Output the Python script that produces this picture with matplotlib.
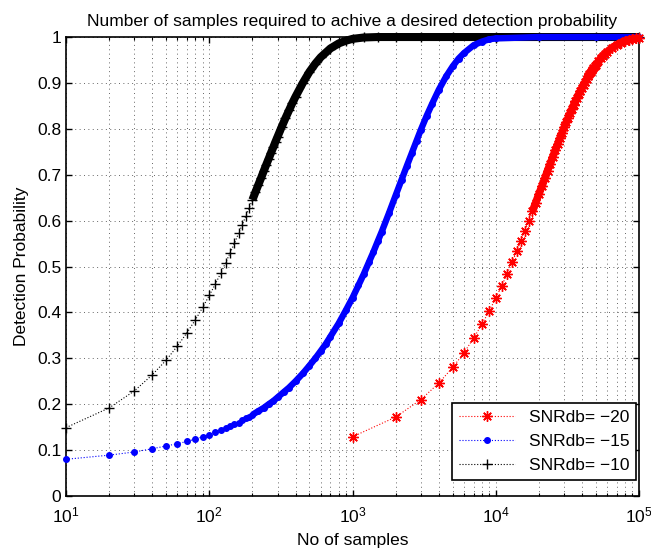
import matplotlib
matplotlib.use("Agg")
import matplotlib.pyplot as plt
from matplotlib.ticker import LogLocator, NullFormatter

plt.rcParams['font.family'] = ['Liberation Sans', 'DejaVu Sans']
plt.rcParams['mathtext.fontset'] = 'custom'
plt.rcParams['mathtext.rm'] = 'Liberation Sans'

# SNR = -10 dB (black '+')
n_m10 = [10, 20, 30, 40, 50, 60, 70, 80, 90, 100,
         110, 120, 130, 140, 150, 160, 170, 180, 190, 200,
         210, 220, 230, 240, 250, 260, 270, 280, 290, 300,
         320, 340, 360, 380, 400, 450, 500, 550, 600, 700,
         800, 900, 1000, 1200, 1500, 2000, 3000, 5000, 10000, 20000,
         50000, 100000]
pd_m10 = [0.149, 0.192, 0.229, 0.264, 0.296, 0.327, 0.356, 0.384, 0.411, 0.437,
          0.461, 0.485, 0.508, 0.530, 0.551, 0.572, 0.591, 0.610, 0.628, 0.645,
          0.662, 0.678, 0.693, 0.708, 0.722, 0.735, 0.748, 0.760, 0.772, 0.783,
          0.804, 0.823, 0.840, 0.856, 0.870, 0.900, 0.924, 0.942, 0.956, 0.975,
          0.986, 0.992, 0.996, 0.999, 1.0, 1.0, 1.0, 1.0, 1.0, 1.0,
          1.0, 1.0]

# SNR = -15 dB (blue '.')
n_m15 = [10, 20, 30, 40, 50, 60, 70, 80, 90, 100,
         110, 120, 130, 140, 150, 160, 170, 180, 190, 200,
         220, 240, 260, 280, 300, 330, 360, 400, 450, 500,
         550, 600, 650, 700, 800, 900, 1000, 1100, 1200, 1300,
         1400, 1500, 1600, 1800, 2000, 2200, 2400, 2600, 2800, 3000,
         3300, 3600, 4000, 4500, 5000, 5500, 6000, 7000, 8000, 9000,
         10000, 20000, 50000, 100000]
pd_m15 = [0.080, 0.089, 0.096, 0.103, 0.109, 0.114, 0.119, 0.124, 0.129, 0.134,
          0.139, 0.143, 0.148, 0.152, 0.156, 0.160, 0.165, 0.169, 0.173, 0.177,
          0.185, 0.192, 0.200, 0.207, 0.215, 0.226, 0.236, 0.250, 0.267, 0.284,
          0.300, 0.316, 0.331, 0.347, 0.376, 0.405, 0.432, 0.459, 0.484, 0.509,
          0.532, 0.555, 0.576, 0.617, 0.655, 0.689, 0.720, 0.748, 0.774, 0.798,
          0.829, 0.855, 0.885, 0.914, 0.936, 0.953, 0.965, 0.982, 0.990, 0.995,
          0.997, 1.0, 1.0, 1.0]

# SNR = -20 dB (red '*')
n_m20 = [1000, 2000, 3000, 4000, 5000, 6000, 7000, 8000, 9000, 10000,
         11000, 12000, 13000, 14000, 15000, 16000, 17000, 18000, 19000, 20000,
         21000, 22000, 23000, 24000, 25000, 26000, 27000, 28000, 29000, 30000,
         31000, 32000, 33000, 34000, 35000, 36000, 37000, 38000, 39000, 40000,
         41000, 42000, 43000, 44000, 45000, 46000, 47000, 48000, 49000, 50000,
         52000, 54000, 56000, 58000, 60000,
         65000, 70000, 75000, 80000, 85000, 90000, 95000, 100000]
pd_m20 = [0.129, 0.172, 0.210, 0.246, 0.280, 0.312, 0.344, 0.374, 0.403, 0.431,
          0.458, 0.484, 0.509, 0.533, 0.556, 0.578, 0.599, 0.620, 0.639, 0.658,
          0.675, 0.692, 0.709, 0.724, 0.739, 0.753, 0.766, 0.779, 0.791, 0.803,
          0.814, 0.824, 0.834, 0.843, 0.852, 0.861, 0.868, 0.876, 0.883, 0.890,
          0.896, 0.902, 0.908, 0.914, 0.919, 0.924, 0.928, 0.932, 0.936, 0.940,
          0.947, 0.954, 0.959, 0.964, 0.968,
          0.977, 0.983, 0.988, 0.992, 0.994, 0.996, 0.997, 0.998]

labels = ['SNRdb= \u221220', 'SNRdb= \u221215', 'SNRdb= \u221210']
y_ticks = [0, 0.1, 0.2, 0.3, 0.4, 0.5, 0.6, 0.7, 0.8, 0.9, 1]
y_ticklabels = ['0', '0.1', '0.2', '0.3', '0.4', '0.5', '0.6', '0.7', '0.8', '0.9', '1']

fig = plt.figure(figsize=(6.51, 5.51), dpi=100)
ax = fig.add_axes([0.1014, 0.0998, 0.8802, 0.8330])
ax.set_xscale('log')

# (x, y, color, marker, ms, band width, band start)
series = [
    (n_m10, pd_m10, 'black', '+', 7, 5.8, 200),
    (n_m15, pd_m15, 'blue', '.', 8, 4.6, 200),
    (n_m20, pd_m20, 'red', (8, 2, 0), 7.5, 5.5, 18000),
]
handles = []
for z, (xs, ys, c, m, ms, bw, start) in enumerate(series):
    h, = ax.plot(xs, ys, linestyle=':', linewidth=0.8, color=c, marker=m,
                 markersize=ms, markeredgewidth=1.0, clip_on=False, zorder=3 + z)
    handles.append(h)
    # where markers pile up they merge into a solid band
    bx = [x for x in xs if x >= start]
    by = [y for x, y in zip(xs, ys) if x >= start]
    ax.plot(bx, by, '-', linewidth=bw, color=c, solid_capstyle='butt',
            clip_on=False, zorder=3 + z)

ax.set_xlim(10, 1e5)
ax.set_ylim(0, 1)
ax.set_yticks(y_ticks)
ax.set_yticklabels(y_ticklabels)
ax.xaxis.set_major_locator(LogLocator(base=10, numticks=10))
ax.xaxis.set_minor_locator(LogLocator(base=10, subs=range(2, 10), numticks=20))
ax.xaxis.set_minor_formatter(NullFormatter())

ax.grid(True, which='major', linestyle=(0, (1, 3.5)), linewidth=0.7, color='0.4')
ax.grid(True, which='minor', axis='x', linestyle=(0, (1, 3.5)), linewidth=0.7, color='0.4')
ax.tick_params(which='both', direction='in', top=True, right=True, labelsize=12.5)
ax.tick_params(which='major', length=4, width=1)
ax.tick_params(which='minor', length=2.5, width=0.8)
ax.tick_params(axis='x', which='major', pad=7)
for s in ax.spines.values():
    s.set_linewidth(1.2)

ax.set_title('Number of samples required to achive a desired detection probability',
             fontsize=12.5, pad=8)
ax.set_xlabel('No of samples', fontsize=12.5, labelpad=5)
ax.set_ylabel('Detection Probability', fontsize=12.5, labelpad=6)

leg = ax.legend([handles[2], handles[1], handles[0]], labels, loc='lower right',
                bbox_to_anchor=(0.995, 0.035), borderaxespad=0, fontsize=12.5,
                fancybox=False, framealpha=1, edgecolor='black', handlelength=3.2,
                labelspacing=0.5, borderpad=0.4)
leg.get_frame().set_linewidth(1.2)

fig.savefig('out.png', dpi=100)
